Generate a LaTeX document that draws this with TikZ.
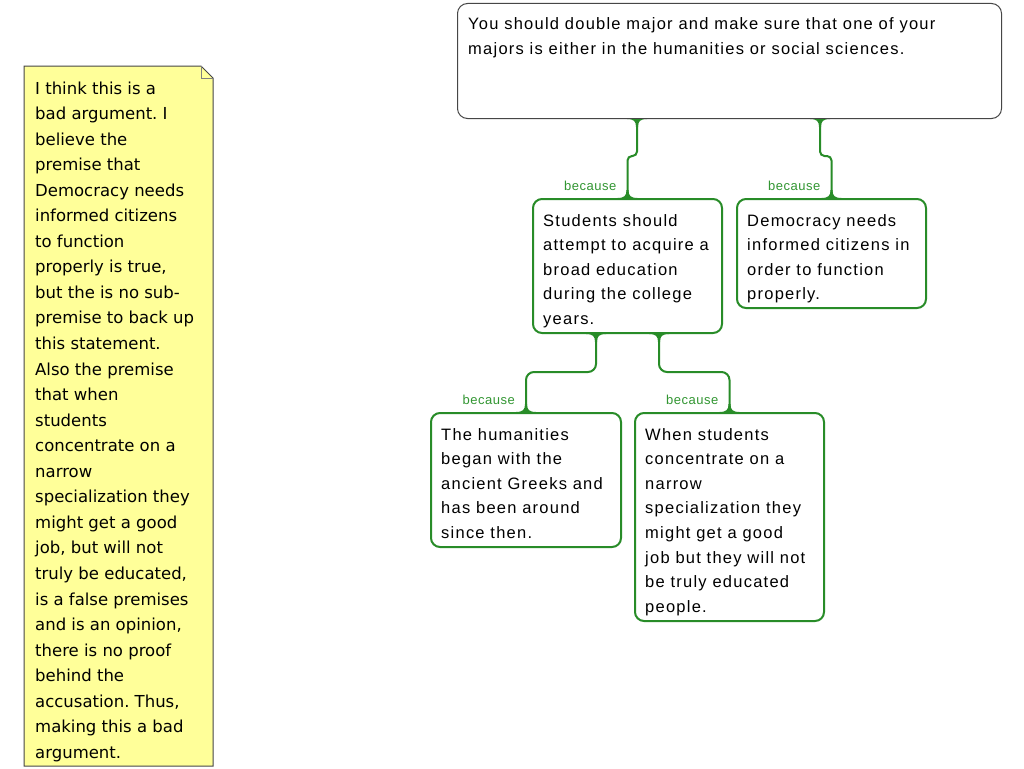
\documentclass[tikz,border=0pt]{standalone}
\usepackage{fontspec}
\usetikzlibrary{calc}
\setmainfont{Liberation Sans}
\newfontfamily\boxfont[LetterSpace=7.5]{Liberation Sans}
\newfontfamily\labfont[LetterSpace=4]{Liberation Sans}
\newfontfamily\notefont{DejaVu Sans}
\definecolor{bgreen}{RGB}{40,140,40}
\definecolor{lgreen}{RGB}{50,150,50}
\definecolor{notefill}{RGB}{255,255,153}
\definecolor{topline}{RGB}{70,70,70}
\newcommand\flare[2]{\fill[bgreen] ($(#1)+(-10,0)$) .. controls ($(#1)+(-3,0)$) and ($(#1)+(-1,#2*0.3)$) .. ($(#1)+(-1,#2)$) -- ($(#1)+(1,#2)$) .. controls ($(#1)+(1,#2*0.3)$) and ($(#1)+(3,0)$) .. ($(#1)+(10,0)$) -- cycle;}
\newcommand\lns[1]{\begin{tabular}[t]{@{}l@{}}#1\end{tabular}}
\frenchspacing
\begin{document}
\begin{tikzpicture}[x=1pt,y=-1pt,
  box/.style={draw=bgreen, line width=2pt, rounded corners=9pt, fill=white, anchor=north west, inner sep=0pt},
  topbox/.style={draw=topline, line width=1pt, rounded corners=10pt, fill=white, anchor=north west, inner sep=0pt},
  txt/.style={anchor=base west, inner sep=0pt, font=\boxfont\fontsize{16.5}{24.6}\selectfont},
  lab/.style={anchor=base east, inner sep=0pt, text=lgreen, font=\labfont\fontsize{13}{13}\selectfont},
  link/.style={draw=bgreen, line width=2pt, rounded corners=6pt},
  notetxt/.style={anchor=base west, inner sep=0pt, font=\notefont\fontsize{16.5}{25.55}\selectfont}]
\useasboundingbox (0,0) rectangle (1024,768);
\fill[white] (0,0) rectangle (1024,768);

% note
\filldraw[fill=notefill, draw=topline, line width=1pt] (24,66) -- (201,66) -- (213,78) -- (213,766) -- (24,766) -- cycle;
\draw[gray, line width=0.8pt] (201,66) -- (201,78) -- (213,78);
\node[notetxt] (n) at (35,94) {\lns{I think this is a\\bad argument. I\\believe the\\premise that\\Democracy needs\\informed citizens\\to function\\properly is true,\\but the is no sub-\\premise to back up\\this statement.\\Also the premise\\that when\\students\\concentrate on a\\narrow\\specialization they\\might get a good\\job, but will not\\truly be educated,\\is a false premises\\and is an opinion,\\there is no proof\\behind the\\accusation. Thus,\\making this a bad\\argument.}};

% boxes
\node[topbox, minimum width=544, minimum height=115] (top) at (457,3) {};
\node[box, minimum width=189, minimum height=134] (s) at (532,198) {};
\node[box, minimum width=189, minimum height=109] (d) at (736,198) {};
\node[box, minimum width=190, minimum height=134] (h) at (430,412) {};
\node[box, minimum width=189, minimum height=208] (w) at (634,412) {};

% connectors
\coordinate (t1) at ($(top.south west)+(180,0)$);
\coordinate (t2) at ($(top.south west)+(363,0)$);
\coordinate (s1) at ($(s.south)+(-31.5,0)$);
\coordinate (s2) at ($(s.south)+(31.5,0)$);
\draw[link, rounded corners=4.5pt] (t1) |- ($(s.north)+(0,-42)$) -- (s.north);
\draw[link, rounded corners=4.5pt] (t2) |- ($(d.north)+(0,-42)$) -- (d.north);
\draw[link, rounded corners=8pt] (s1) |- ($(h.north)+(0,-40)$) -- (h.north);
\draw[link, rounded corners=8pt] (s2) |- ($(w.north)+(0,-40)$) -- (w.north);
\flare{t1}{8}
\flare{t2}{8}
\flare{s1}{8}
\flare{s2}{8}
\flare{s.north}{-8}
\flare{d.north}{-8}
\flare{h.north}{-8}
\flare{w.north}{-8}

% labels
\node[lab] (l1) at ($(s.north)+(-11,-8)$) {because};
\node[lab] (l2) at ($(d.north)+(-11,-8)$) {because};
\node[lab] (l3) at ($(h.north)+(-11,-8)$) {because};
\node[lab] (l4) at ($(w.north)+(-11,-8)$) {because};

% texts
\node[txt] (tt) at (468,29.5) {\lns{You should double major and make sure that one of your\\majors is either in the humanities or social sciences.}};
\node[txt] (st) at (543,226) {\lns{Students should\\attempt to acquire a\\broad education\\during the college\\years.}};
\node[txt] (dt) at (747,226) {\lns{Democracy needs\\informed citizens in\\order to function\\properly.}};
\node[txt] (ht) at (441,440) {\lns{The humanities\\began with the\\ancient Greeks and\\has been around\\since then.}};
\node[txt] (wt) at (645,440) {\lns{When students\\concentrate on a\\narrow\\specialization they\\might get a good\\job but they will not\\be truly educated\\people.}};
\end{tikzpicture}
\end{document}
